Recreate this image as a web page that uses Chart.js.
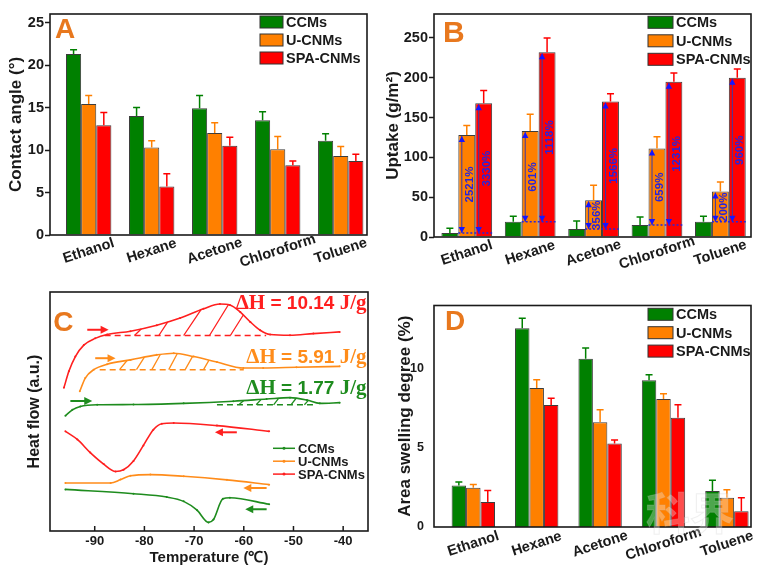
<!DOCTYPE html>
<html><head><meta charset="utf-8">
<script src="https://cdn.jsdelivr.net/npm/chart.js@4.4.1/dist/chart.umd.min.js"></script>
<style>
html,body{margin:0;padding:0;background:#fff;}
body{width:760px;height:575px;position:relative;overflow:hidden;}
canvas{position:absolute;}
</style></head><body>
<canvas id="cA" width="380" height="288" style="left:0;top:0;width:380px;height:288px"></canvas>
<canvas id="cB" width="380" height="288" style="left:380px;top:0;width:380px;height:288px"></canvas>
<canvas id="cC" width="380" height="287" style="left:0;top:288px;width:380px;height:287px"></canvas>
<canvas id="cD" width="380" height="287" style="left:380px;top:288px;width:380px;height:287px"></canvas>
<script>
// ---------------- data ----------------
const solvents = ['Ethanol', 'Hexane', 'Acetone', 'Chloroform', 'Toluene'];
const seriesNames = ['CCMs', 'U-CNMs', 'SPA-CNMs'];

const contactTicks = [0, 5, 10, 15, 20, 25];
const contactCCM = [21.3, 14.0, 14.9, 13.5, 11.1];
const contactU = [15.4, 10.3, 12.0, 10.1, 9.3];
const contactSPA = [12.9, 5.7, 10.5, 8.2, 8.7];
const contactErrCCM = [0.5, 1.0, 1.5, 1.0, 0.8];
const contactErrU = [1.0, 0.8, 1.2, 1.5, 1.1];
const contactErrSPA = [1.5, 1.5, 1.0, 0.5, 0.8];

const uptakeTicks = [0, 50, 100, 150, 200, 250];
const uptakeCCM = [5, 19, 10, 15, 19];
const uptakeU = [128, 133, 46, 111, 57];
const uptakeSPA = [168, 232, 170, 195, 200];
const uptakeErrCCM = [6, 7, 10, 10, 7];
const uptakeErrU = [12, 21, 19, 15, 12];
const uptakeErrSPA = [16, 18, 10, 11, 11];
const uptakeGainU = ['2521%', '601%', '356%', '659%', '200%'];
const uptakeGainSPA = ['3330%', '1118%', '1566%', '1231%', '960%'];

const swellTicks = [0, 5, 10];
const swellCCM = [2.63, 12.56, 10.63, 9.28, 2.27];
const swellU = [2.48, 8.78, 6.62, 8.09, 1.85];
const swellSPA = [1.58, 7.71, 5.27, 6.91, 0.99];
const swellErrCCM = [0.21, 0.63, 0.69, 0.34, 0.69];
const swellErrU = [0.21, 0.52, 0.79, 0.33, 0.50];
const swellErrSPA = [0.73, 0.42, 0.23, 0.82, 0.86];

const tempTicks = [-90, -80, -70, -60, -50, -40];
// heating curves (temperature, heat flow a.u.)
const heatSPA_T = [-96.2, -95.2, -93.9, -92.2, -89.9, -87.5, -82.8, -77.5, -72.8, -68.1, -64.8, -62.8, -60.7, -58.7, -56.7, -54.7, -50.7, -46.0, -40.7];
const heatSPA_H = [59.9, 66.8, 73.0, 77.8, 80.6, 82.2, 83.6, 86.1, 89.1, 93.0, 95.0, 94.6, 91.6, 87.5, 84.0, 82.2, 81.9, 82.6, 83.3];
const heatU_T = [-93.0, -91.9, -90.2, -87.5, -82.8, -77.5, -74.1, -70.1, -65.4, -60.1, -56.1, -49.4, -40.7];
const heatU_H = [58.5, 64.0, 67.5, 69.8, 71.6, 73.7, 74.4, 73.0, 70.7, 68.2, 68.2, 68.5, 68.9];
const heatCCM_T = [-95.9, -94.5, -92.9, -89.5, -82.2, -72.1, -62.1, -55.4, -50.7, -47.3, -44.7, -40.7];
const heatCCM_H = [48.2, 50.7, 52.1, 52.8, 52.9, 53.4, 54.3, 55.2, 55.8, 54.8, 53.4, 53.7];
// cooling curves
const coolSPA_T = [-95.9, -93.5, -90.9, -88.2, -85.8, -84.2, -82.2, -80.2, -78.2, -76.5, -74.1, -65.4, -54.9];
const coolSPA_H = [41.7, 38.3, 32.8, 28.0, 24.9, 25.6, 29.3, 35.8, 42.4, 44.9, 45.2, 44.1, 41.7];
const coolU_T = [-95.9, -86.8, -84.8, -82.8, -78.8, -72.1, -63.4, -54.9];
const coolU_H = [20.1, 20.1, 21.5, 23.1, 23.6, 22.9, 21.4, 19.4];
const coolCCM_T = [-95.9, -82.2, -75.5, -72.1, -69.4, -67.1, -66.1, -64.2, -62.8, -54.9];
const coolCCM_H = [17.4, 15.6, 14.2, 12.4, 8.7, 3.6, 4.8, 13.5, 13.9, 11.2];
// integration baselines and hatch strokes
const baseSPA = {from: -88, to: -55.5, h: 81.8};
const baseU = {from: -89, to: -60, h: 67.5};
const baseCCM = {from: -65.4, to: -45.3, h: 52.8};
const hatchSPA_from = [-82.0, -77.1, -72.1, -66.9, -62.7];
const hatchSPA_to = [-80.6, -75.3, -68.6, -63.1, -60.1];
const hatchU_from = [-85.0, -81.6, -78.5, -75.1, -71.8, -68.1];
const hatchU_to = [-83.5, -80.0, -76.8, -73.4, -70.3, -67.0];
const hatchCCM_from = [-61.0, -57.5, -54.0, -50.5, -47.8];
const hatchCCM_to = [-60.0, -56.5, -53.0, -49.5, -47.0];
const enthalpy = ['10.14', '5.91', '1.77'];

// ---------------- styling ----------------
const FONT = "'Liberation Sans', Arial, Helvetica, sans-serif";
const SERIF = "'Liberation Serif', 'Times New Roman', serif";
const INK = '#1a1a1a';
const GREEN = '#008000', ORANGE = '#ff8000', RED = '#ff0000';
const LG = '#1e8c1e', LO = '#ff8c1a', LR = '#ff1f1f';
const LETTER = '#e8781e';
const BLUE = '#2424e0';

Chart.defaults.font.family = FONT;
Chart.defaults.font.weight = 'bold';
Chart.defaults.color = INK;
Chart.defaults.animation = false;

function interp(ts, hs, t) {
  for (let i = 1; i < ts.length; i++) {
    if (t <= ts[i]) { const f = (t - ts[i - 1]) / (ts[i] - ts[i - 1]); return hs[i - 1] + f * (hs[i] - hs[i - 1]); }
  }
  return hs[hs.length - 1];
}

// ---------------- plugins ----------------
const framePlugin = {
  id: 'frame',
  afterDraw(chart) {
    const {ctx, chartArea: a} = chart;
    ctx.save(); ctx.strokeStyle = INK; ctx.lineWidth = 1.6;
    ctx.strokeRect(a.left, a.top, a.right - a.left, a.bottom - a.top);
    ctx.restore();
  }
};
const letterPlugin = {
  id: 'panelLetter',
  afterDraw(chart, args, o) {
    const {ctx, chartArea: a} = chart;
    ctx.save(); ctx.font = `bold ${o.size}px ${FONT}`; ctx.fillStyle = LETTER;
    ctx.textAlign = 'left'; ctx.textBaseline = 'alphabetic';
    ctx.fillText(o.text, a.left + o.dx, a.top + o.dy);
    ctx.restore();
  }
};
const errorBarPlugin = {
  id: 'errorBars',
  afterDatasetsDraw(chart) {
    const {ctx} = chart; const ys = chart.scales.y;
    chart.data.datasets.forEach((ds, i) => {
      if (!ds.errors) return;
      const meta = chart.getDatasetMeta(i);
      meta.data.forEach((bar, j) => {
        const yt = ys.getPixelForValue(ds.data[j].y + ds.errors[j]);
        ctx.save(); ctx.strokeStyle = ds.errorColor; ctx.lineWidth = 1.5;
        ctx.beginPath(); ctx.moveTo(bar.x, bar.y); ctx.lineTo(bar.x, yt);
        ctx.moveTo(bar.x - 3.5, yt); ctx.lineTo(bar.x + 3.5, yt); ctx.stroke();
        ctx.restore();
      });
    });
  }
};
const xLabelPlugin = {
  id: 'xLabels',
  afterDraw(chart, args, o) {
    const {ctx, chartArea: a} = chart; const xs = chart.scales.x;
    ctx.save(); ctx.font = `bold ${o.size}px ${FONT}`; ctx.fillStyle = INK;
    ctx.textAlign = 'center'; ctx.textBaseline = 'middle';
    solvents.forEach((t, i) => {
      ctx.save(); ctx.translate(xs.getPixelForValue(i), a.bottom + o.dy);
      ctx.rotate(-o.angle * Math.PI / 180); ctx.fillText(t, 0, 0); ctx.restore();
    });
    ctx.restore();
  }
};
const boxLegendPlugin = {
  id: 'boxLegend',
  afterDraw(chart, args, o) {
    const {ctx} = chart;
    ctx.save();
    chart.data.datasets.forEach((ds, i) => {
      const yc = o.y + i * o.dy;
      ctx.fillStyle = ds.backgroundColor; ctx.fillRect(o.x, yc - o.h / 2, o.w, o.h);
      ctx.strokeStyle = '#333'; ctx.lineWidth = 1; ctx.strokeRect(o.x, yc - o.h / 2, o.w, o.h);
      ctx.fillStyle = INK; ctx.font = `bold ${o.size}px ${FONT}`;
      ctx.textAlign = 'left'; ctx.textBaseline = 'middle';
      ctx.fillText(ds.label, o.x + o.w + 3, yc + 1);
    });
    ctx.restore();
  }
};
const uptakeNotePlugin = {
  id: 'uptakeNotes',
  afterDatasetsDraw(chart) {
    const {ctx} = chart; const ys = chart.scales.y;
    const mu = chart.getDatasetMeta(1), ms = chart.getDatasetMeta(2);
    solvents.forEach((_, j) => {
      const yb = ys.getPixelForValue(uptakeCCM[j]);
      const ub = mu.data[j], sb = ms.data[j];
      ctx.save(); ctx.strokeStyle = BLUE; ctx.lineWidth = 1.5; ctx.setLineDash([2, 2]);
      ctx.beginPath(); ctx.moveTo(ub.x - ub.width / 2, yb); ctx.lineTo(sb.x + sb.width / 2, yb); ctx.stroke();
      ctx.restore();
      [[ub, uptakeGainU[j]], [sb, uptakeGainSPA[j]]].forEach(([bar, txt]) => {
        const x = bar.x - bar.width / 2 + 3.5; const yt = bar.y + 1;
        ctx.save();
        ctx.strokeStyle = '#3a3aa8'; ctx.lineWidth = 1;
        ctx.beginPath(); ctx.moveTo(x, yb); ctx.lineTo(x, yt); ctx.stroke();
        ctx.fillStyle = '#1515ff';
        ctx.beginPath(); ctx.moveTo(x, yt); ctx.lineTo(x - 3.2, yt + 6); ctx.lineTo(x + 3.2, yt + 6); ctx.closePath(); ctx.fill();
        ctx.beginPath(); ctx.moveTo(x, yb); ctx.lineTo(x - 3.2, yb - 6); ctx.lineTo(x + 3.2, yb - 6); ctx.closePath(); ctx.fill();
        ctx.translate(bar.x + 3, (yb + yt) / 2); ctx.rotate(-Math.PI / 2);
        ctx.font = `bold 11.5px ${FONT}`; ctx.fillStyle = BLUE; ctx.textAlign = 'center'; ctx.textBaseline = 'middle';
        ctx.fillText(txt, 0, 0);
        ctx.restore();
      });
    });
  }
};
const watermarkPlugin = {
  id: 'watermark',
  afterDraw(chart, args, o) {
    const {ctx} = chart;
    ctx.save(); ctx.font = `bold 44px 'Noto Sans CJK SC', sans-serif`;
    ctx.textAlign = 'left'; ctx.textBaseline = 'alphabetic';
    ctx.fillStyle = 'rgba(255,255,255,0.3)'; ctx.strokeStyle = 'rgba(190,190,190,0.25)'; ctx.lineWidth = 1;
    ctx.fillText(o.text, o.x, o.y); ctx.strokeText(o.text, o.x, o.y);
    ctx.restore();
  }
};
const inTickPlugin = {
  id: 'inTicks',
  afterDraw(chart) {
    const {ctx, chartArea: a} = chart; const xs = chart.scales.x;
    ctx.save(); ctx.strokeStyle = INK; ctx.lineWidth = 1.5; ctx.beginPath();
    xs.ticks.forEach(t => { const x = xs.getPixelForValue(t.value); ctx.moveTo(x, a.bottom); ctx.lineTo(x, a.bottom - 5); });
    ctx.stroke(); ctx.restore();
  }
};
const dscArrows = [
  {t1: -91.5, t2: -87.2, h: 84.2, color: LR},
  {t1: -89.9, t2: -85.8, h: 72.3, color: LO},
  {t1: -94.9, t2: -90.5, h: 54.4, color: LG},
  {t1: -61.4, t2: -65.8, h: 41.3, color: LR},
  {t1: -55.4, t2: -60.1, h: 18.0, color: LO},
  {t1: -55.4, t2: -59.7, h: 9.1, color: LG}
];
const arrowPlugin = {
  id: 'dscArrows',
  afterDatasetsDraw(chart) {
    const {ctx} = chart; const xs = chart.scales.x, ys = chart.scales.y;
    dscArrows.forEach(ar => {
      const x1 = xs.getPixelForValue(ar.t1), x2 = xs.getPixelForValue(ar.t2), y = ys.getPixelForValue(ar.h);
      const dir = Math.sign(x2 - x1);
      ctx.save(); ctx.strokeStyle = ar.color; ctx.fillStyle = ar.color; ctx.lineWidth = 2;
      ctx.beginPath(); ctx.moveTo(x1, y); ctx.lineTo(x2 - dir * 6, y); ctx.stroke();
      ctx.beginPath(); ctx.moveTo(x2, y); ctx.lineTo(x2 - dir * 8, y - 4); ctx.lineTo(x2 - dir * 8, y + 4); ctx.closePath(); ctx.fill();
      ctx.restore();
    });
  }
};
const dhPlugin = {
  id: 'dhLabels',
  afterDraw(chart, args, o) {
    const {ctx, chartArea: a} = chart; const ys = chart.scales.y;
    const colors = [LR, LO, LG];
    enthalpy.forEach((v, i) => {
      const parts = [['\u0394H', `bold 21px ${SERIF}`], [' = ' + v + ' ', `bold 19px ${FONT}`], ['J/g', `bold 21px ${SERIF}`]];
      let x = a.right - 1.5; const y = ys.getPixelForValue(o.levels[i]);
      ctx.save(); ctx.fillStyle = colors[i]; ctx.textAlign = 'right'; ctx.textBaseline = 'alphabetic';
      for (let k = parts.length - 1; k >= 0; k--) {
        ctx.font = parts[k][1]; ctx.fillText(parts[k][0], x, y); x -= ctx.measureText(parts[k][0]).width;
      }
      ctx.restore();
    });
  }
};
const dscLegendPlugin = {
  id: 'dscLegend',
  afterDraw(chart, args, o) {
    const {ctx} = chart; const colors = [LG, LO, LR];
    ctx.save();
    seriesNames.forEach((n, i) => {
      const y = o.y + i * o.dy;
      ctx.strokeStyle = colors[i]; ctx.lineWidth = 1.5;
      ctx.beginPath(); ctx.moveTo(o.x, y); ctx.lineTo(o.x + o.len, y); ctx.stroke();
      ctx.fillStyle = colors[i]; ctx.beginPath(); ctx.arc(o.x + o.len / 2, y, 1.5, 0, Math.PI * 2); ctx.fill();
      ctx.fillStyle = INK; ctx.font = `bold 13px ${FONT}`; ctx.textAlign = 'left'; ctx.textBaseline = 'middle';
      ctx.fillText(n, o.x + o.len + 3, y + 1);
    });
    ctx.restore();
  }
};

// ---------------- bar panels ----------------
function barSet(label, vals, errs, color) {
  return {label, data: vals.map((v, i) => ({x: i, y: v})), errors: errs, errorColor: color,
    backgroundColor: color, borderColor: '#3c3c3c', borderWidth: 1};
}
function barPanel(id, sets, p, extraPlugins, extraOpts) {
  const plugins = {legend: {display: false}, tooltip: {enabled: false},
    panelLetter: p.letter, xLabels: {size: 14.5, dy: p.labelDy, angle: 18}, boxLegend: p.legend};
  Object.assign(plugins, extraOpts || {});
  return new Chart(document.getElementById(id), {
    type: 'bar',
    data: {datasets: sets},
    options: {
      responsive: false, animation: false,
      layout: {padding: {top: p.top, right: p.right, left: 0, bottom: 0}},
      datasets: {bar: {categoryPercentage: p.group, barPercentage: 1}},
      plugins,
      scales: {
        x: {type: 'linear', offset: false, min: p.xmin, max: p.xmax,
          afterBuildTicks: s => { s.ticks = solvents.map((_, i) => ({value: i})); },
          afterFit: s => { s.height = p.xh; },
          ticks: {display: false}, grid: {display: false, drawTicks: false}, border: {display: false}},
        y: {type: 'linear', min: 0, max: p.ymax,
          afterBuildTicks: s => { s.ticks = p.ticks.map(v => ({value: v})); },
          afterFit: s => { s.width = p.yw; },
          ticks: {font: {size: p.tickSize, weight: 'bold'}, color: INK, padding: p.tickPad},
          grid: {display: p.tickLen > 0, drawOnChartArea: false, drawTicks: p.tickLen > 0, tickLength: p.tickLen, tickColor: INK, tickWidth: 1.5},
          border: {display: false},
          title: {display: true, text: p.title, font: {size: 17, weight: 'bold'}, color: INK, padding: {top: p.titlePad, bottom: 0}}}
      }
    },
    plugins: [errorBarPlugin, framePlugin, letterPlugin, xLabelPlugin, boxLegendPlugin].concat(extraPlugins || [])
  });
}

barPanel('cA', [
  barSet(seriesNames[0], contactCCM, contactErrCCM, GREEN),
  barSet(seriesNames[1], contactU, contactErrU, ORANGE),
  barSet(seriesNames[2], contactSPA, contactErrSPA, RED)
], {xmin: -0.614, xmax: 4.417, group: 0.72, ymax: 26, ticks: contactTicks, tickSize: 14.5, tickLen: 5, tickPad: 1,
  yw: 50, xh: 53, top: 14, right: 13, title: 'Contact angle (°)', titlePad: 6.3, labelDy: 16,
  letter: {text: 'A', dx: 5, dy: 24, size: 28}, legend: {x: 260, y: 22, dy: 18, w: 23, h: 12, size: 14.5}});

barPanel('cB', [
  barSet(seriesNames[0], uptakeCCM, uptakeErrCCM, GREEN),
  barSet(seriesNames[1], uptakeU, uptakeErrU, ORANGE),
  barSet(seriesNames[2], uptakeSPA, uptakeErrSPA, RED)
], {xmin: -0.517, xmax: 4.483, group: 0.8, ymax: 280, ticks: uptakeTicks, tickSize: 14.5, tickLen: 5, tickPad: 1,
  yw: 54, xh: 51, top: 14, right: 9, title: 'Uptake (g/m\u00B2)', titlePad: 3.1, labelDy: 16,
  letter: {text: 'B', dx: 9, dy: 27.7, size: 30}, legend: {x: 268, y: 22.3, dy: 18.5, w: 25, h: 12, size: 14.5}},
  [uptakeNotePlugin]);

barPanel('cD', [
  barSet(seriesNames[0], swellCCM, swellErrCCM, GREEN),
  barSet(seriesNames[1], swellU, swellErrU, ORANGE),
  barSet(seriesNames[2], swellSPA, swellErrSPA, RED)
], {xmin: -0.62, xmax: 4.38, group: 0.684, ymax: 14, ticks: swellTicks, tickSize: 12.5, tickLen: 0, tickPad: 10,
  yw: 54, xh: 48, top: 16, right: 9, title: 'Area swelling degree (%)', titlePad: 14.8, labelDy: 17,
  letter: {text: 'D', dx: 11, dy: 24, size: 28}, legend: {x: 268, y: 26.3, dy: 18.4, w: 25, h: 12, size: 14.5}},
  [watermarkPlugin], {watermark: {text: '科界', x: 266, y: 242}});

// ---------------- DSC panel ----------------
function curve(ts, hs, color) {
  return {data: ts.map((t, i) => ({x: t, y: hs[i]})), borderColor: color, borderWidth: 1.6,
    pointRadius: 1, pointBackgroundColor: color, pointBorderWidth: 0, cubicInterpolationMode: 'monotone', fill: false};
}
function baseline(b, color) {
  return {data: [{x: b.from, y: b.h}, {x: b.to, y: b.h}], borderColor: color, borderWidth: 1.5,
    borderDash: [6, 4], pointRadius: 0, fill: false};
}
function hatches(from, to, b, ts, hs, color) {
  const d = [];
  from.forEach((f, i) => { d.push({x: f, y: b.h}, {x: to[i], y: interp(ts, hs, to[i])}, {x: to[i], y: null}); });
  return {data: d, borderColor: color, borderWidth: 1.3, pointRadius: 0, tension: 0, spanGaps: false, fill: false};
}

new Chart(document.getElementById('cC'), {
  type: 'line',
  data: {datasets: [
    curve(heatSPA_T, heatSPA_H, LR), curve(heatU_T, heatU_H, LO), curve(heatCCM_T, heatCCM_H, LG),
    curve(coolSPA_T, coolSPA_H, LR), curve(coolU_T, coolU_H, LO), curve(coolCCM_T, coolCCM_H, LG),
    baseline(baseSPA, LR), baseline(baseU, LO), baseline(baseCCM, LG),
    hatches(hatchSPA_from, hatchSPA_to, baseSPA, heatSPA_T, heatSPA_H, LR),
    hatches(hatchU_from, hatchU_to, baseU, heatU_T, heatU_H, LO),
    hatches(hatchCCM_from, hatchCCM_to, baseCCM, heatCCM_T, heatCCM_H, LG)
  ]},
  options: {
    responsive: false, animation: false,
    layout: {padding: {top: 1, right: 12, left: 0, bottom: 0}},
    plugins: {legend: {display: false}, tooltip: {enabled: false},
      panelLetter: {text: 'C', dx: 3.3, dy: 39.3, size: 28},
      dhLabels: {levels: [93.0, 70.4, 57.2]},
      dscLegend: {x: 273, y: 160.3, dy: 12.9, len: 22}},
    scales: {
      x: {type: 'linear', min: -99, max: -35,
        afterBuildTicks: s => { s.ticks = tempTicks.map(v => ({value: v})); },
        afterFit: s => { s.height = 44; },
        ticks: {font: {size: 13, weight: 'bold'}, color: INK, padding: 3, callback: v => String(v)},
        grid: {display: false, drawTicks: false}, border: {display: false},
        title: {display: true, text: 'Temperature (\u2103)', font: {size: 15, weight: 'bold'}, color: INK, padding: {top: 0, bottom: 7.7}}},
      y: {type: 'linear', min: 0, max: 100,
        afterFit: s => { s.width = 50; },
        ticks: {display: false}, grid: {display: false, drawTicks: false}, border: {display: false},
        title: {display: true, text: 'Heat flow (a.u.)', font: {size: 16, weight: 'bold'}, color: INK, padding: {top: 25.4, bottom: 0}}}
    }
  },
  plugins: [framePlugin, letterPlugin, inTickPlugin, arrowPlugin, dhPlugin, dscLegendPlugin]
});
</script></body></html>
